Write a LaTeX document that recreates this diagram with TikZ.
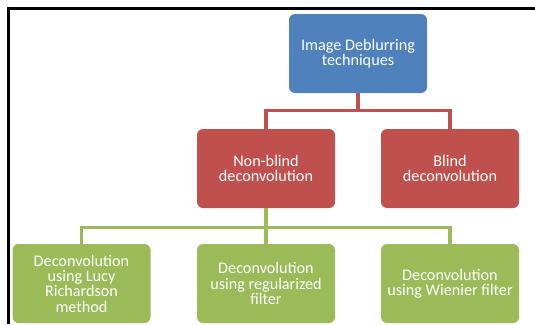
\documentclass[tikz,border=0pt]{standalone}
\usepackage{fontspec}
\setmainfont{Carlito}
\usetikzlibrary{positioning}

\definecolor{boxblue}{HTML}{4F81BD}
\definecolor{boxred}{HTML}{C0504D}
\definecolor{boxgreen}{HTML}{9BBB59}

\begin{document}
\begin{tikzpicture}[x=1pt, y=-1pt,
    box/.style={rounded corners=6pt, minimum width=138pt, minimum height=79pt,
        text=white, align=center, inner sep=1pt,
        font=\fontsize{16.2}{15.3}\selectfont},
    redline/.style={boxred, line width=3.4pt},
    greenline/.style={boxgreen, line width=3.4pt}]

\useasboundingbox (0,0) rectangle (535,324);

% Frame
\draw[line width=2.2pt] (535,8.5) -- (8.5,8.5) -- (8.5,324);

% Root
\node[box, fill=boxblue] (root) at (358,53.5) {Image Deblurring\\techniques};

% Second level
\node[box, fill=boxred] (nonblind) at (266,168.5) {Non-blind\\deconvolution};
\node[box, fill=boxred] (blind) at (450,168.5) {Blind\\deconvolution};

% Third level
\node[box, fill=boxgreen] (lucy) at (81.5,283.5) {Deconvolution\\using Lucy\\Richardson\\method};
\node[box, fill=boxgreen] (regular) at (266,283.5) {Deconvolution\\using regularized\\filter};
\node[box, fill=boxgreen] (wiener) at (450,283.5) {Deconvolution\\using Wienier filter};

% Connectors
\draw[redline] (root.south) -- ++(0,17) -| ([yshift=-3pt]nonblind.north);
\draw[redline] (root.south) -- ++(0,17) -| ([yshift=-3pt]blind.north);
\draw[greenline] (nonblind.south) -- ++(0,19) -| ([yshift=-3pt]lucy.north);
\draw[greenline] (nonblind.south) -- ([yshift=-3pt]regular.north);
\draw[greenline] (nonblind.south) -- ++(0,19) -| ([yshift=-3pt]wiener.north);

\end{tikzpicture}
\end{document}
